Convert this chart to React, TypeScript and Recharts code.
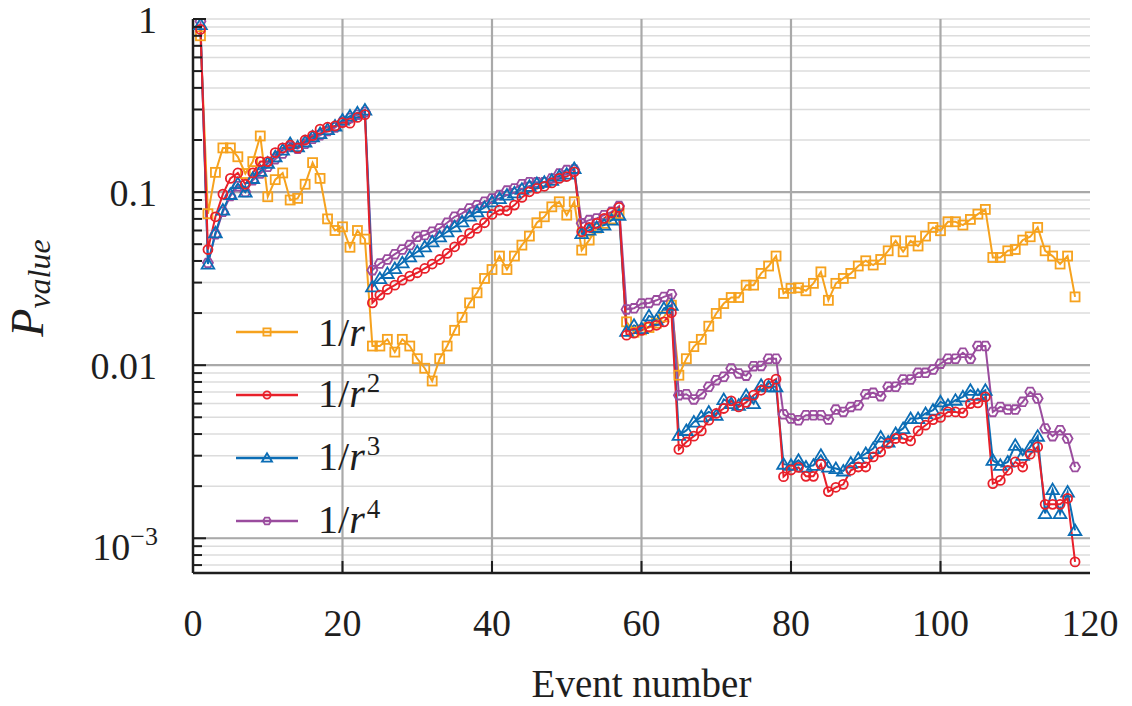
import React from 'react';
import { LineChart, Line, XAxis, YAxis, CartesianGrid, Legend } from 'recharts';

// ---------- data ----------
const eventNumbers: number[] = Array.from({ length: 118 }, (_, i) => i + 1);

const pInvR: number[] = [
  0.80, 0.075, 0.130, 0.180, 0.180, 0.160, 0.128, 0.150, 0.211, 0.094,
  0.118, 0.129, 0.090, 0.092, 0.111, 0.148, 0.120, 0.070, 0.060, 0.063,
  0.048, 0.060, 0.0535, 0.0129, 0.0129, 0.0141, 0.0119, 0.0141, 0.0129, 0.0109,
  0.0096, 0.0081, 0.0109, 0.0129, 0.0159, 0.0189, 0.0229, 0.0262, 0.0317, 0.0357,
  0.0427, 0.0357, 0.0427, 0.0494, 0.0557, 0.0665, 0.0720, 0.0822, 0.0879, 0.0736,
  0.0879, 0.0462, 0.0528, 0.062, 0.066, 0.070, 0.075, 0.0178, 0.0155, 0.016,
  0.0165, 0.0175, 0.019, 0.0222, 0.00875, 0.0109, 0.0128, 0.0141, 0.0168, 0.0199,
  0.0227, 0.0246, 0.0246, 0.029, 0.029, 0.0339, 0.0374, 0.0427, 0.026, 0.0278,
  0.0280, 0.0269, 0.0297, 0.0346, 0.0237, 0.0297, 0.0317, 0.0339, 0.0374, 0.0401,
  0.0379, 0.0408, 0.0458, 0.0523, 0.0452, 0.0523, 0.0488, 0.0557, 0.0625, 0.0598,
  0.0674, 0.0674, 0.0645, 0.0695, 0.0746, 0.0794, 0.0419, 0.0419, 0.0458, 0.0466,
  0.0528, 0.0552, 0.0625, 0.0458, 0.0427, 0.0384, 0.0427, 0.0248,
];

const pInvR2: number[] = [
  0.87, 0.0466, 0.072, 0.0974, 0.120, 0.129, 0.111, 0.129, 0.150, 0.150,
  0.169, 0.180, 0.187, 0.180, 0.200, 0.212, 0.231, 0.237, 0.241, 0.252,
  0.250, 0.270, 0.280, 0.0229, 0.0254, 0.0274, 0.0290, 0.0310, 0.0327, 0.0342,
  0.0362, 0.0384, 0.0408, 0.0442, 0.0483, 0.0528, 0.0577, 0.0617, 0.0665, 0.0743,
  0.0787, 0.078, 0.0841, 0.0932, 0.1004, 0.105, 0.108, 0.113, 0.120, 0.123,
  0.131, 0.059, 0.0625, 0.066, 0.0705, 0.076, 0.0815, 0.0149, 0.0153, 0.0159,
  0.0167, 0.017, 0.0178, 0.0201, 0.00326, 0.0036, 0.00389, 0.00417, 0.00481, 0.00526,
  0.00562, 0.00622, 0.00574, 0.0061, 0.00671, 0.00716, 0.00784, 0.0083, 0.00227, 0.00248,
  0.00257, 0.00228, 0.00228, 0.00268, 0.00186, 0.00197, 0.00205, 0.00247, 0.00258, 0.00258,
  0.00295, 0.00315, 0.00353, 0.00377, 0.00377, 0.00365, 0.00417, 0.0045, 0.00485, 0.00499,
  0.00537, 0.00537, 0.0053, 0.0060, 0.00605, 0.00656, 0.00207, 0.00216, 0.00247, 0.00276,
  0.00258, 0.00306, 0.00337, 0.00157, 0.00157, 0.00157, 0.0017, 0.00073,
];

const pInvR3: number[] = [
  0.93, 0.0384, 0.0582, 0.0787, 0.097, 0.112, 0.100, 0.120, 0.132, 0.147,
  0.160, 0.175, 0.191, 0.183, 0.195, 0.209, 0.218, 0.230, 0.241, 0.261,
  0.275, 0.287, 0.298, 0.0284, 0.0317, 0.0339, 0.0362, 0.0391, 0.0423, 0.0452,
  0.0483, 0.0516, 0.0552, 0.0590, 0.0630, 0.0674, 0.0727, 0.0769, 0.0815, 0.0879,
  0.0919, 0.0961, 0.099, 0.104, 0.108, 0.112, 0.114, 0.117, 0.124, 0.127,
  0.137, 0.0577, 0.0603, 0.0625, 0.0645, 0.0689, 0.0736, 0.0157, 0.0170, 0.0163,
  0.0193, 0.0182, 0.0213, 0.0222, 0.00394, 0.0042, 0.0047, 0.00503, 0.00537, 0.00514,
  0.00634, 0.0060, 0.00587, 0.00671, 0.0060, 0.00766, 0.0075, 0.0075, 0.00268, 0.00264,
  0.00282, 0.00258, 0.00264, 0.00302, 0.00258, 0.00253, 0.00245, 0.00272, 0.00289, 0.00309,
  0.0033, 0.00385, 0.0036, 0.00403, 0.00431, 0.00492, 0.00492, 0.00526, 0.0055, 0.00614,
  0.00587, 0.00628, 0.00656, 0.00716, 0.00671, 0.00716, 0.00282, 0.00264, 0.00276, 0.00345,
  0.00302, 0.00337, 0.00389, 0.00139, 0.00191, 0.00139, 0.00185, 0.00111,
];

const pInvR4: number[] = [
  0.97, 0.039, 0.057, 0.077, 0.095, 0.108, 0.100, 0.117, 0.128, 0.140,
  0.155, 0.167, 0.183, 0.178, 0.190, 0.203, 0.213, 0.225, 0.236, 0.255,
  0.268, 0.280, 0.290, 0.0354, 0.0387, 0.0408, 0.0438, 0.0466, 0.0494, 0.0552,
  0.0564, 0.059, 0.0617, 0.0665, 0.072, 0.0753, 0.0805, 0.0841, 0.0879, 0.0919,
  0.0961, 0.102, 0.105, 0.111, 0.114, 0.114, 0.114, 0.12, 0.128, 0.134,
  0.135, 0.066, 0.0689, 0.0705, 0.0736, 0.0769, 0.083, 0.0210, 0.0213, 0.0227,
  0.0229, 0.0237, 0.0248, 0.0257, 0.00671, 0.0068, 0.00634, 0.0068, 0.0075, 0.00819,
  0.00857, 0.00957, 0.00896, 0.0087, 0.00987, 0.0099, 0.0109, 0.0109, 0.0052, 0.00492,
  0.00481, 0.00514, 0.00514, 0.00514, 0.00485, 0.00554, 0.00537, 0.00574, 0.00587, 0.0068,
  0.00692, 0.00662, 0.0075, 0.0075, 0.00827, 0.00827, 0.00903, 0.00903, 0.00944, 0.0102,
  0.0109, 0.0109, 0.0118, 0.0109, 0.0129, 0.0129, 0.00537, 0.00574, 0.00554, 0.00554,
  0.00614, 0.00701, 0.00642, 0.00431, 0.00389, 0.00421, 0.00377, 0.00258,
];

const xTicks: number[] = [0, 20, 40, 60, 80, 100, 120];
const xMajorGrid: number[] = [20, 40, 60, 80, 100];
const yMajorTicks: number[] = [0.001, 0.01, 0.1, 1];
const yMajorLabels: string[] = ['10^−3', '0.01', '0.1', '1'];
const yAllTicks: number[] = [
  0.0007, 0.0008, 0.0009,
  0.001, 0.002, 0.003, 0.004, 0.005, 0.006, 0.007, 0.008, 0.009,
  0.01, 0.02, 0.03, 0.04, 0.05, 0.06, 0.07, 0.08, 0.09,
  0.1, 0.2, 0.3, 0.4, 0.5, 0.6, 0.7, 0.8, 0.9,
  1,
];
const seriesKeys: string[] = ['r1', 'r2', 'r3', 'r4'];
const seriesPowers: string[] = ['', '2', '3', '4'];

const rows = eventNumbers.map((e, i) => ({
  event: e,
  r1: pInvR[i],
  r2: pInvR2[i],
  r3: pInvR3[i],
  r4: pInvR4[i],
}));

// ---------- styles ----------
const FONT = 'Liberation Serif, DejaVu Serif, Noto Serif, serif';
const INK = '#1e1e1e';
const COLORS: Record<string, string> = { r1: '#F6A21E', r2: '#E8202A', r3: '#0B6DB5', r4: '#9A4C9E' };
const SHAPES: Record<string, string> = { r1: 'square', r2: 'circle', r3: 'triangle', r4: 'hexagon' };

function Marker({ shape, cx, cy, color, s = 1 }: any) {
  if (cx == null || cy == null || isNaN(cx) || isNaN(cy)) return null;
  const sw = 1.8;
  if (shape === 'square') {
    const h = 4.5 * s;
    return <rect x={cx - h} y={cy - h} width={2 * h} height={2 * h} fill="none" stroke={color} strokeWidth={sw} />;
  }
  if (shape === 'circle') {
    return <circle cx={cx} cy={cy} r={4.5 * s} fill="none" stroke={color} strokeWidth={sw} />;
  }
  if (shape === 'triangle') {
    const pts = `${cx},${cy - 6 * s} ${cx + 6.3 * s},${cy + 4.6 * s} ${cx - 6.3 * s},${cy + 4.6 * s}`;
    return <polygon points={pts} fill="none" stroke={color} strokeWidth={sw} strokeLinejoin="miter" />;
  }
  const r = 5 * s;
  const pts = [0, 60, 120, 180, 240, 300]
    .map((a) => `${cx + r * Math.cos((a * Math.PI) / 180)},${cy + r * Math.sin((a * Math.PI) / 180)}`)
    .join(' ');
  return <polygon points={pts} fill="none" stroke={color} strokeWidth={sw} />;
}

function BottomTick(props: any) {
  const { x, y, payload } = props;
  const v = payload.value;
  const inner = v > 0 && v < 120;
  return (
    <g>
      {inner && <line x1={x} y1={y} x2={x} y2={y - 12} stroke={INK} strokeWidth={2} />}
      <text x={x} y={y + 63} textAnchor="middle" style={{ fontFamily: FONT, fontSize: 38 }} fill={INK}>
        {v}
      </text>
    </g>
  );
}

function TopTick(props: any) {
  const { x, y, payload } = props;
  const v = payload.value;
  const inner = v > 0 && v < 120;
  return <g>{inner && <line x1={x} y1={y} x2={x} y2={y + 12} stroke={INK} strokeWidth={2} />}</g>;
}

function LeftTick(props: any) {
  const { x, y, payload } = props;
  const idx = yMajorTicks.indexOf(payload.value);
  const len = idx >= 0 ? 13 : 9;
  const label = idx >= 0 ? yMajorLabels[idx] : null;
  let text: any = null;
  if (label) {
    if (label.indexOf('^') >= 0) {
      const [base, exp] = label.split('^');
      text = (
        <text x={x - 35} y={y + 22} textAnchor="end" style={{ fontFamily: FONT, fontSize: 38 }} fill={INK}>
          {base}
          <tspan style={{ fontSize: 26 }} dy={-15}>{exp}</tspan>
        </text>
      );
    } else {
      text = (
        <text x={x - 36} y={y + 14} textAnchor="end" style={{ fontFamily: FONT, fontSize: 38 }} fill={INK}>
          {label}
        </text>
      );
    }
  }
  return (
    <g>
      <line x1={x} y1={y} x2={x + len} y2={y} stroke={INK} strokeWidth={2} />
      {text}
    </g>
  );
}

function RightTick(props: any) {
  const { x, y, payload } = props;
  const idx = yMajorTicks.indexOf(payload.value);
  const len = idx >= 0 ? 13 : 9;
  return (
    <g>
      <line x1={x - len} y1={y} x2={x} y2={y} stroke={INK} strokeWidth={2} />
    </g>
  );
}

function XTitle(props: any) {
  const vb = props.viewBox;
  return (
    <text
      x={vb.x + vb.width / 2}
      y={vb.y + 124}
      textAnchor="middle"
      style={{ fontFamily: FONT, fontSize: 39 }}
      fill={INK}
    >
      Event number
    </text>
  );
}

function YTitle(props: any) {
  const vb = props.viewBox;
  const cx = vb.x + 43;
  const cy = vb.y + vb.height / 2 - 8;
  return (
    <text
      transform={`translate(${cx}, ${cy}) rotate(-90)`}
      textAnchor="middle"
      style={{ fontFamily: FONT, fontSize: 46, fontStyle: 'italic' }}
      fill={INK}
    >
      P
      <tspan style={{ fontSize: 32 }} dy={7}>value</tspan>
    </text>
  );
}

function LegendContent() {
  return (
    <div style={{ fontFamily: FONT, color: INK }}>
      {seriesKeys.map((k, i) => (
        <div key={k} style={{ display: 'flex', alignItems: 'center', height: 63 }}>
          <svg width={62} height={20} style={{ display: 'block' }}>
            <line x1={0} y1={10} x2={62} y2={10} stroke={COLORS[k]} strokeWidth={2.5} />
            <Marker shape={SHAPES[k]} cx={31} cy={10} color={COLORS[k]} s={0.8} />
          </svg>
          <span style={{ marginLeft: 20, fontSize: 40, lineHeight: '40px', whiteSpace: 'nowrap', position: 'relative', top: 1 }}>
            1/<i>r</i>
            {seriesPowers[i] && (
              <span style={{ fontSize: 27, position: 'relative', top: -15, marginLeft: 2 }}>{seriesPowers[i]}</span>
            )}
          </span>
        </div>
      ))}
    </div>
  );
}

const drawOrder: string[] = ['r1', 'r4', 'r3', 'r2'];

export default function App() {
  return (
    <div style={{ position: 'absolute', left: 0, top: 0, width: 1132, height: 706, background: '#ffffff', fontFamily: FONT }}>
      <LineChart width={1132} height={706} data={rows} margin={{ top: 19, right: 42, bottom: 0, left: 0 }}>
        <CartesianGrid vertical={false} stroke="#dcdcdc" strokeWidth={1.5} />
        <CartesianGrid
          horizontalValues={yMajorTicks.slice(0, 3)}
          verticalValues={xMajorGrid}
          stroke="#a9a9a9"
          strokeWidth={2.2}
        />
        <XAxis
          dataKey="event"
          type="number"
          domain={[0, 120]}
          ticks={xTicks}
          interval={0}
          height={133}
          tickSize={0}
          tickMargin={0}
          tickLine={false}
          axisLine={{ stroke: INK, strokeWidth: 2.5 }}
          tick={BottomTick}
          label={{ content: XTitle }}
        />
        <XAxis
          xAxisId="top"
          orientation="top"
          dataKey="event"
          type="number"
          domain={[0, 120]}
          ticks={xTicks}
          interval={0}
          height={0}
          tickSize={0}
          tickMargin={0}
          tickLine={false}
          axisLine={{ stroke: INK, strokeWidth: 2.5 }}
          tick={TopTick}
        />
        <YAxis
          type="number"
          scale="log"
          domain={[0.00063, 1]}
          allowDataOverflow
          ticks={yAllTicks}
          interval={0}
          width={193}
          tickSize={0}
          tickMargin={0}
          tickLine={false}
          axisLine={{ stroke: INK, strokeWidth: 2.5 }}
          tick={LeftTick}
          label={{ content: YTitle }}
        />
        <YAxis
          yAxisId="right"
          orientation="right"
          type="number"
          scale="log"
          domain={[0.00063, 1]}
          allowDataOverflow
          ticks={yAllTicks}
          interval={0}
          width={0}
          tickSize={0}
          tickMargin={0}
          tickLine={false}
          axisLine={{ stroke: INK, strokeWidth: 2.5 }}
          tick={RightTick}
        />
        {drawOrder.map((k) => (
          <Line
            key={k}
            dataKey={k}
            type="linear"
            stroke={COLORS[k]}
            strokeWidth={2}
            isAnimationActive={false}
            activeDot={false}
            dot={(p: any) => (
              <Marker key={`${k}-${p.index}`} shape={SHAPES[k]} cx={p.cx} cy={p.cy} color={COLORS[k]} />
            )}
          />
        ))}
        <Legend
          layout="horizontal"
          verticalAlign="middle"
          align="center"
          content={LegendContent}
          wrapperStyle={{ left: 236, top: 300, width: 200, height: 252 }}
        />
      </LineChart>
    </div>
  );
}
